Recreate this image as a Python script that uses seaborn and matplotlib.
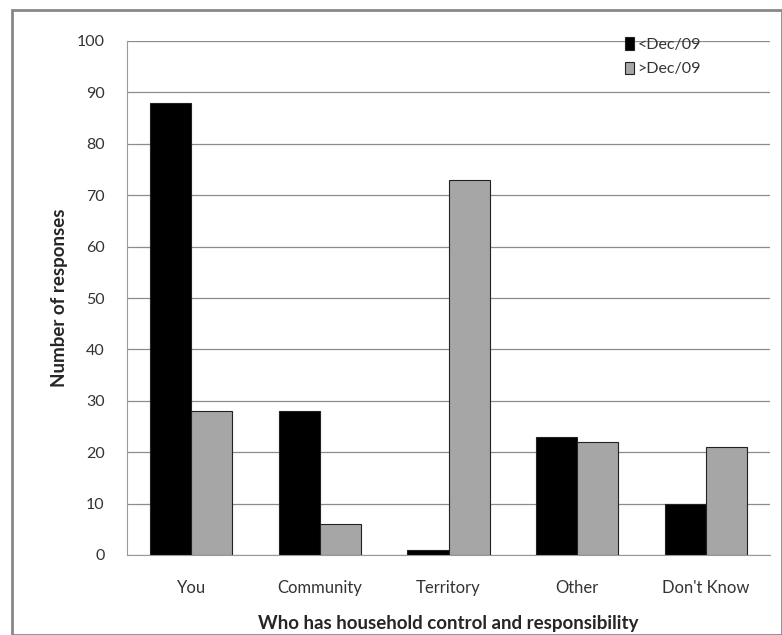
import pandas as pd
import matplotlib
matplotlib.use("Agg")
import matplotlib.pyplot as plt
import seaborn as sns
from matplotlib.patches import Rectangle

# data
categories = ["You", "Community", "Territory", "Other", "Don't Know"]
before = [88, 28, 1, 23, 10]
after = [28, 6, 73, 22, 21]
series_names = ["<Dec/09", ">Dec/09"]

df = pd.DataFrame({
    "cat": categories * 2,
    "val": before + after,
    "series": [series_names[0]] * len(categories) + [series_names[1]] * len(categories),
})

sns.set_style("white")
plt.rcParams['font.family'] = ['Lato', 'DejaVu Sans']

fig = plt.figure(figsize=(7.82, 6.35), dpi=100)
ax = fig.add_axes([127 / 782, 1 - 555 / 635, (770 - 127) / 782, (555 - 41) / 635])

sns.barplot(data=df, x="cat", y="val", hue="series", order=categories,
            palette=["#000000", "#a6a6a6"], width=0.64, gap=0,
            edgecolor="#222222", linewidth=0.8, ax=ax, saturation=1)

ax.set_ylim(0, 100)
ax.set_yticks(range(0, 101, 10))
ax.yaxis.grid(True, color="#8c8c8c", linewidth=0.9)
ax.set_axisbelow(True)
for s in ["top", "right"]:
    ax.spines[s].set_visible(False)
ax.spines["left"].set_color("#9a9a9a")
ax.spines["bottom"].set_color("#9a9a9a")
ax.tick_params(axis="y", labelsize=11.5, colors="#333333", pad=16, length=0)
ax.tick_params(axis="x", labelsize=12, colors="#333333", pad=18, length=0)
ax.set_xlabel("Who has household control and responsibility", fontsize=13.5,
              fontweight="bold", labelpad=14)
ax.set_ylabel("Number of responses", fontsize=13.5, fontweight="bold", labelpad=6)

leg = ax.legend(loc="upper right", bbox_to_anchor=(0.915, 1.035), frameon=False,
                fontsize=11.5, handlelength=0.6, handleheight=0.8, handletextpad=0.2,
                labelspacing=0.6)
for t in leg.get_texts():
    t.set_color("#333333")

# grey picture frame
fig.patches.append(Rectangle((12 / 782, 0), 1 - 12 / 782, 1 - 10 / 635,
                             transform=fig.transFigure, fill=False,
                             edgecolor="#888888", linewidth=2))

fig.savefig("out.png", dpi=100)
